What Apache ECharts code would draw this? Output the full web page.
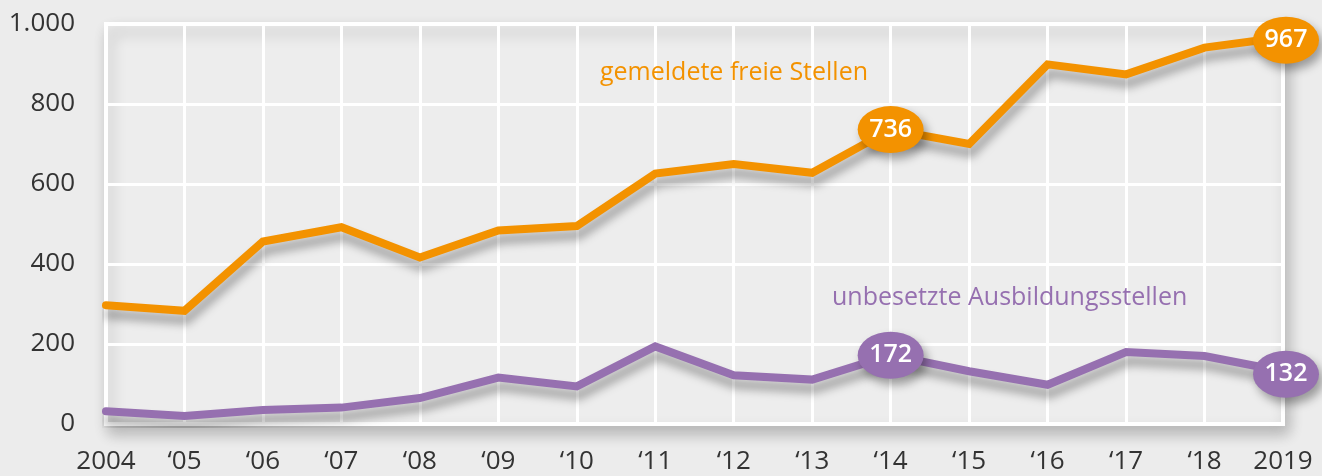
<!DOCTYPE html>
<html>
<head>
<meta charset="utf-8">
<script src="https://cdn.jsdelivr.net/npm/echarts@6/dist/echarts.min.js"></script>
<style>
html,body{margin:0;padding:0;background:#ececec;}
#c{width:1322px;height:476px;}
</style>
</head>
<body>
<div id="c"></div>
<script>
var categories = ['2004','\u201805','\u201806','\u201807','\u201808','\u201809','\u201810','\u201811','\u201812','\u201813','\u201814','\u201815','\u201816','\u201817','\u201818','2019'];
var freieStellen = [297, 283, 456, 492, 416, 484, 495, 626, 650, 628, 736, 700, 899, 874, 941, 967];
var ausbildungsstellen = [32, 20, 35, 41, 65, 116, 94, 194, 122, 111, 172, 132, 98, 180, 170, 132];
var yTicks = [0, 200, 400, 600, 800, 1000];
var yTickLabels = ['0', '200', '400', '600', '800', '1.000'];
var highlightIdx = [10, 15];
var seriesNames = ['gemeldete freie Stellen', 'unbesetzte Ausbildungsstellen'];

var ORANGE = '#f39200';
var PURPLE = '#9670b0';
var FONT = '"Open Sans", "Noto Sans", sans-serif';

function marks(arr, color) {
  return highlightIdx.map(function (i) {
    return {
      coord: [i, arr[i]],
      value: arr[i],
      symbol: 'circle',
      symbolSize: [66, 47],
      symbolOffset: i === 15 ? [3, 3] : [0, 0],
      itemStyle: { color: color, shadowBlur: 10, shadowColor: 'rgba(0,0,0,0.35)', shadowOffsetX: 4, shadowOffsetY: 6 },
      label: { show: true, position: 'inside', color: '#fff', fontSize: 25, fontWeight: 600, fontFamily: FONT, formatter: String(arr[i]) }
    };
  });
}

var chart = echarts.init(document.getElementById('c'), null, { renderer: 'canvas' });
chart.setOption({
  backgroundColor: '#ececec',
  animation: false,
  grid: {
    left: 106, right: 39, top: 24, bottom: 52,
    show: true,
    backgroundColor: '#ededed',
    borderColor: '#ffffff',
    borderWidth: 4,
    shadowBlur: 14,
    shadowColor: 'rgba(0,0,0,0.22)',
    shadowOffsetX: 4,
    shadowOffsetY: 8
  },
  xAxis: {
    type: 'category',
    data: categories,
    boundaryGap: false,
    axisLine: { show: false },
    axisTick: { show: false },
    splitLine: { show: true, lineStyle: { color: '#ffffff', width: 3 } },
    axisLabel: { color: '#333', fontSize: 26, fontFamily: FONT, margin: 25, interval: 0 }
  },
  yAxis: {
    type: 'value',
    min: 0, max: 1000, interval: 200,
    axisLine: { show: false },
    axisTick: { show: false },
    splitLine: { show: true, lineStyle: { color: '#ffffff', width: 3 } },
    axisLabel: {
      color: '#333', fontSize: 26, fontFamily: FONT, margin: 31,
      formatter: function (v) { var i = yTicks.indexOf(v); return i >= 0 ? yTickLabels[i] : v; }
    }
  },
  series: [
    {
      name: seriesNames[0],
      type: 'line',
      data: freieStellen,
      showSymbol: false,
      lineStyle: { color: ORANGE, width: 8, cap: 'round', join: 'miter', shadowBlur: 10, shadowColor: 'rgba(0,0,0,0.35)', shadowOffsetY: 9, shadowOffsetX: 2 },
      itemStyle: { color: ORANGE },
      markPoint: { data: marks(freieStellen, ORANGE) },
      z: 3
    },
    {
      name: seriesNames[1],
      type: 'line',
      data: ausbildungsstellen,
      showSymbol: false,
      lineStyle: { color: PURPLE, width: 8, cap: 'round', join: 'miter', shadowBlur: 10, shadowColor: 'rgba(0,0,0,0.35)', shadowOffsetY: 9, shadowOffsetX: 2 },
      itemStyle: { color: PURPLE },
      markPoint: { data: marks(ausbildungsstellen, PURPLE) },
      z: 3
    }
  ],
  graphic: [
    { type: 'text', z: 100, left: 600, top: 60, style: { text: seriesNames[0], fill: ORANGE, font: '25px ' + FONT } },
    { type: 'text', z: 100, left: 832, top: 285, style: { text: seriesNames[1], fill: PURPLE, font: '25px ' + FONT } }
  ]
});
</script>
</body>
</html>
